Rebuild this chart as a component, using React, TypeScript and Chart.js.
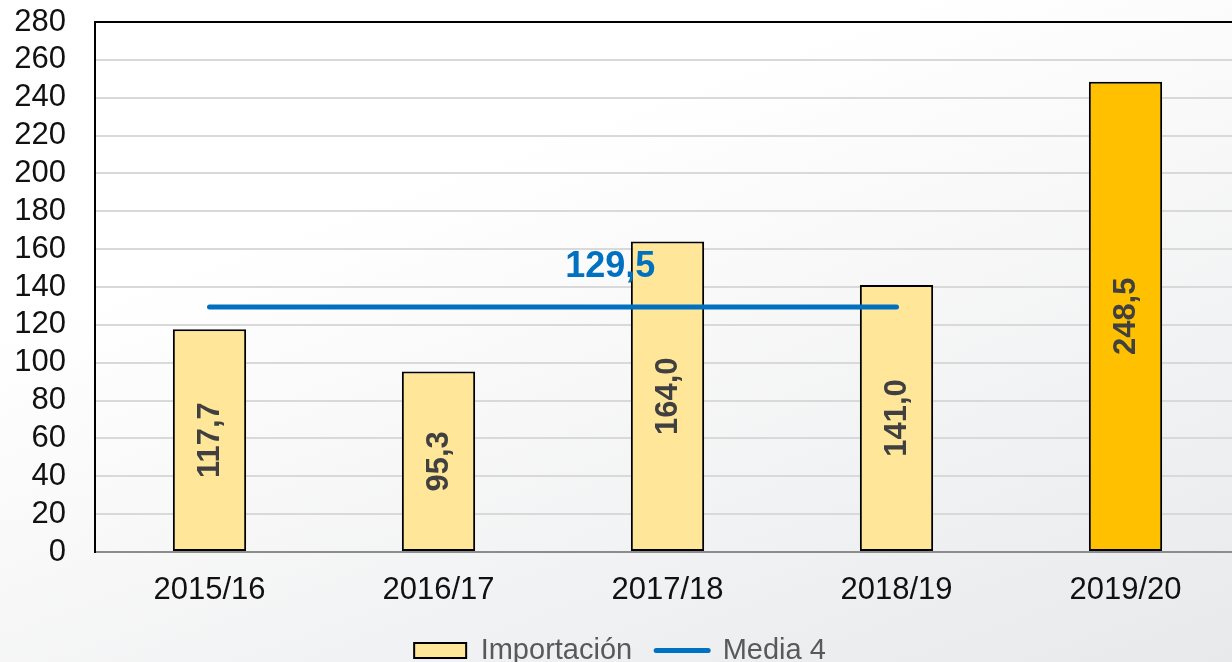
import React, { useEffect, useRef } from "react";
import { Chart, registerables } from "chart.js";

Chart.register(...registerables);

const categories = ["2015/16", "2016/17", "2017/18", "2018/19", "2019/20"];
const importacion = [117.7, 95.3, 164.0, 141.0, 248.5];
const media4 = [129.5, 129.5, 129.5, 129.5, null];
const barColors = ["#FFE699", "#FFE699", "#FFE699", "#FFE699", "#FFC000"];
const yMin = 0;
const yMax = 280;
const yStep = 20;
const mediaLabelValue = 129.5;
const mediaLabelPos = 1.75;

const fmt = (v: number) => v.toFixed(1).replace(".", ",");
const FONT = '"Liberation Sans", Arial, sans-serif';

const labelsPlugin = {
  id: "customLabels",
  afterDatasetsDraw(chart: any) {
    const ctx = chart.ctx;
    const meta = chart.getDatasetMeta(0);
    ctx.save();
    ctx.font = `bold 31px ${FONT}`;
    ctx.fillStyle = "#404040";
    ctx.textAlign = "center";
    ctx.textBaseline = "middle";
    meta.data.forEach((bar: any, i: number) => {
      const cy = (bar.y + bar.base) / 2;
      ctx.save();
      ctx.translate(bar.x, cy);
      ctx.rotate(-Math.PI / 2);
      ctx.fillText(fmt(importacion[i]), 0, 1);
      ctx.restore();
    });
    const xs = chart.scales.x;
    const ys = chart.scales.y;
    ctx.font = `bold 36px ${FONT}`;
    ctx.fillStyle = "#0070C0";
    ctx.fillText(
      fmt(mediaLabelValue),
      xs.getPixelForValue(mediaLabelPos),
      ys.getPixelForValue(mediaLabelValue) - 40
    );
    ctx.restore();
  },
};

export default function App() {
  const ref = useRef<HTMLCanvasElement | null>(null);
  useEffect(() => {
    if (!ref.current) return;
    const chart = new Chart(ref.current, {
      type: "bar",
      data: {
        labels: categories,
        datasets: [
          {
            type: "bar",
            label: "Importación",
            data: importacion,
            backgroundColor: barColors,
            borderColor: "#000000",
            borderWidth: 2,
            borderSkipped: false,
            barPercentage: 0.32,
            categoryPercentage: 1,
            order: 2,
          },
          {
            type: "line",
            label: "Media 4",
            data: media4 as any,
            borderColor: "#0070C0",
            backgroundColor: "#0070C0",
            borderWidth: 5,
            borderCapStyle: "round",
            pointRadius: 0,
            pointHoverRadius: 0,
            spanGaps: false,
            order: 1,
          },
        ],
      },
      options: {
        responsive: false,
        animation: false,
        devicePixelRatio: 1,
        layout: { padding: { top: 22, left: 0, right: 0, bottom: -13 } },
        plugins: {
          tooltip: { enabled: false },
          legend: {
            position: "bottom",
            labels: {
              usePointStyle: true,
              pointStyleWidth: 52,
              boxHeight: 15,
              padding: 24,
              color: "#595959",
              font: { family: FONT, size: 29 },
              generateLabels: (c: any) => [
                {
                  text: c.data.datasets[0].label,
                  fillStyle: barColors[0],
                  strokeStyle: "#000000",
                  lineWidth: 2,
                  pointStyle: "rect",
                  datasetIndex: 0,
                  hidden: false,
                  fontColor: "#595959",
                },
                {
                  text: c.data.datasets[1].label,
                  fillStyle: "#0070C0",
                  strokeStyle: "#0070C0",
                  lineWidth: 5,
                  lineCap: "round",
                  pointStyle: "line",
                  datasetIndex: 1,
                  hidden: false,
                  fontColor: "#595959",
                },
              ],
            },
          },
        },
        scales: {
          x: {
            offset: true,
            grid: { display: false },
            border: { display: true, color: "#8c8c8c", width: 2 },
            ticks: {
              color: "#111111",
              padding: 12,
              font: { family: FONT, size: 31 },
              maxRotation: 0,
            },
            afterFit: (s: any) => {
              s.height = 60;
            },
          },
          y: {
            min: yMin,
            max: yMax,
            grid: {
              color: (c: any) => (c.tick && c.tick.value === yMax ? "#000000" : "#d9d9d9"),
              lineWidth: 2,
              drawTicks: false,
            },
            border: { display: true, color: "#000000", width: 2 },
            ticks: {
              stepSize: yStep,
              autoSkip: false,
              color: "#111111",
              padding: 29,
              font: { family: FONT, size: 31 },
            },
            afterFit: (s: any) => {
              s.width = 95;
              s.paddingTop = 0;
              s.paddingBottom = 0;
            },
          },
        },
      },
      plugins: [labelsPlugin],
    });
    return () => chart.destroy();
  }, []);

  return (
    <div
      style={{
        position: "fixed",
        left: 0,
        top: 0,
        width: 1232,
        height: 662,
        overflow: "hidden",
        background: "linear-gradient(160deg, #ffffff 30%, #e8e9eb 100%)",
      }}
    >
      <canvas ref={ref} width={1240} height={662} style={{ display: "block" }} />
    </div>
  );
}
